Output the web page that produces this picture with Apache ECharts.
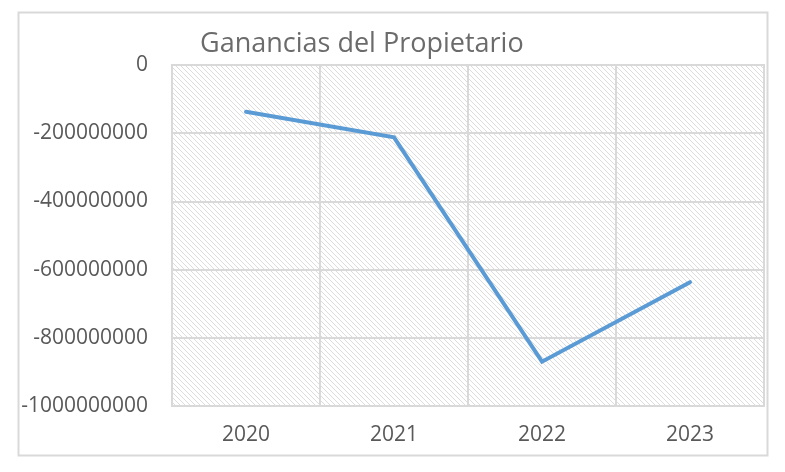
<!DOCTYPE html>
<html>
<head>
<meta charset="utf-8">
<script src="https://cdn.jsdelivr.net/npm/echarts@6/dist/echarts.min.js"></script>
<style>html,body{margin:0;padding:0;background:#fff;}#c{width:785px;height:472px;}</style>
</head>
<body>
<div id="c"></div>
<script>
const titleText = 'Ganancias del Propietario';
const categories = ['2020', '2021', '2022', '2023'];
const values = [-137000000, -212000000, -870000000, -637000000];
const yMin = -1000000000, yMax = 0, yStep = 200000000;

function hatch() {
  const s = 5;
  const cv = document.createElement('canvas');
  cv.width = s; cv.height = s;
  const ctx = cv.getContext('2d');
  ctx.fillStyle = '#ffffff';
  ctx.fillRect(0, 0, s, s);
  ctx.strokeStyle = '#dcdcdc';
  ctx.lineWidth = 1;
  ctx.beginPath();
  ctx.moveTo(-1, -1); ctx.lineTo(s + 1, s + 1);
  ctx.moveTo(-1, s - 1); ctx.lineTo(1, s + 1);
  ctx.moveTo(s - 1, -1); ctx.lineTo(s + 1, 1);
  ctx.stroke();
  return { image: cv, repeat: 'repeat' };
}

const chart = echarts.init(document.getElementById('c'), null, { renderer: 'canvas' });
chart.setOption({
  animation: false,
  backgroundColor: '#ffffff',
  title: {
    text: titleText, left: 195, top: 26,
    textStyle: { fontFamily: 'Open Sans', fontSize: 27, fontWeight: 'normal', color: '#6b6b6b' }
  },
  graphic: [{
    type: 'rect', left: 16, top: 10, z: 100, silent: true,
    shape: { width: 749, height: 443 },
    style: { fill: 'none', stroke: '#d9d9d9', lineWidth: 2 }
  }],
  grid: {
    left: 172, top: 65, right: 21, bottom: 66,
    show: true, backgroundColor: hatch(), borderColor: '#d9d9d9', borderWidth: 2
  },
  xAxis: {
    type: 'category', data: categories, boundaryGap: true,
    axisLine: { show: false }, axisTick: { show: false },
    axisLabel: { fontFamily: 'Open Sans', fontSize: 21, color: '#595959', margin: 19 },
    splitLine: { show: true, lineStyle: { color: '#d9d9d9', width: 2 } }
  },
  yAxis: {
    type: 'value', min: yMin, max: yMax, interval: yStep,
    axisLine: { show: false }, axisTick: { show: false },
    axisLabel: { fontFamily: 'Open Sans', fontSize: 21, color: '#595959', margin: 24,
      formatter: function (v) { return String(v); } },
    splitLine: { show: true, lineStyle: { color: '#d9d9d9', width: 2 } }
  },
  series: [{
    type: 'line', data: values, showSymbol: false, symbol: 'none',
    lineStyle: { color: '#5b9bd5', width: 4, cap: 'round', join: 'miter' }
  }]
});
</script>
</body>
</html>
